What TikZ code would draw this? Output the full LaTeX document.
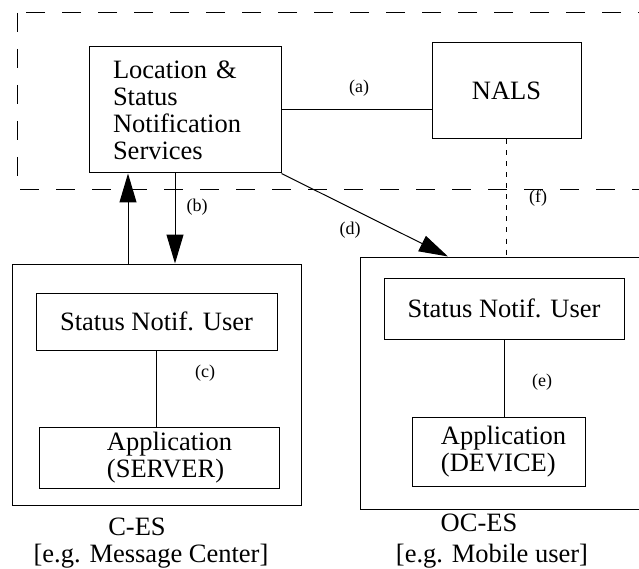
\documentclass[tikz,border=0pt]{standalone}
\usepackage{fontspec}
\setmainfont{Liberation Serif}
\usetikzlibrary{positioning, arrows.meta}

\begin{document}
\begin{tikzpicture}[
x=1pt, y=-1pt,
line width=1pt,
every node/.style={
    font=\fontsize{26.5}{27}\selectfont,
    },
box/.style={
    draw,
    rectangle,
    },
tag/.style={
    font=\fontsize{18}{20}\selectfont,
    },
arr/.style={
    -{Triangle[length=29pt,width=17pt]},
    },
]
\useasboundingbox (0,0) rectangle (639,569);
\clip (0,0) rectangle (639,569);

% network side
\draw[dash pattern=on 19pt off 17pt] (17,13) rectangle (700,190);
\node (loc) [box, text width=144pt, align=left, inner xsep=24pt,
             minimum height=126pt] at (185,110)
          {Location \&\\Status\\Notification\\Services};
\node (nals) [box, minimum width=149pt, minimum height=96pt,
              right=150pt of loc, yshift=19pt] {NALS};

% end systems
\node (ces) [box, minimum width=289pt, minimum height=241pt,
             below=90pt of loc, xshift=-28.5pt] {};
\node (usrS) [box, minimum width=241pt, minimum height=57pt,
              below=29pt of ces.north] {Status Notif. User};
\node (appS) [box, minimum width=240pt, minimum height=61pt, align=left,
              below=76pt of usrS, xshift=2.5pt]
          {\hspace*{21pt}Application\\\hspace*{21pt}(SERVER)};

\node (oces) [box, minimum width=301pt, minimum height=252pt,
              below=117pt of nals, xshift=4pt] {};
\node (usrD) [box, minimum width=240pt, minimum height=61pt,
              below=21pt of oces.north, xshift=-6.5pt] {Status Notif. User};
\node (appD) [box, minimum width=173pt, minimum height=69pt, align=left,
              below=77pt of usrD, xshift=-5.5pt]
          {\hspace*{10pt}Application\\\hspace*{10pt}(DEVICE)};

\node (cesT) [align=center] at (151,543)
          {C-ES\hspace*{28pt}\\{}[e.g. Message Center]};
\node (ocesT) [align=center] at (492,541)
          {OC-ES\hspace*{26pt}\\[4pt]{}[e.g. Mobile user]};

% connectors
\draw (loc.east) -- (loc.east -| nals.west);
\draw[arr] ([xshift=-28.5pt]ces.north) -- ([xshift=-57pt]loc.south);
\draw[arr] ([xshift=-10pt]loc.south) -- ([xshift=18.5pt]ces.north);
\draw[arr] (loc.south east) -- ([xshift=-62.5pt]oces.north);
\draw[dash pattern=on 5pt off 6pt] (nals.south) -- (nals.south |- oces.north);
\draw (usrS.south) -- (usrS.south |- appS.north);
\draw (usrD.south) -- (usrD.south |- appD.north);

\node (la) [tag] at (359,88) {(a)};
\node (lb) [tag] at (197,207) {(b)};
\node (lc) [tag] at (205,373) {(c)};
\node (ld) [tag] at (350,230) {(d)};
\node (le) [tag] at (542,382) {(e)};
\node (lf) [tag] at (538,198) {(f)};
\end{tikzpicture}
\end{document}
